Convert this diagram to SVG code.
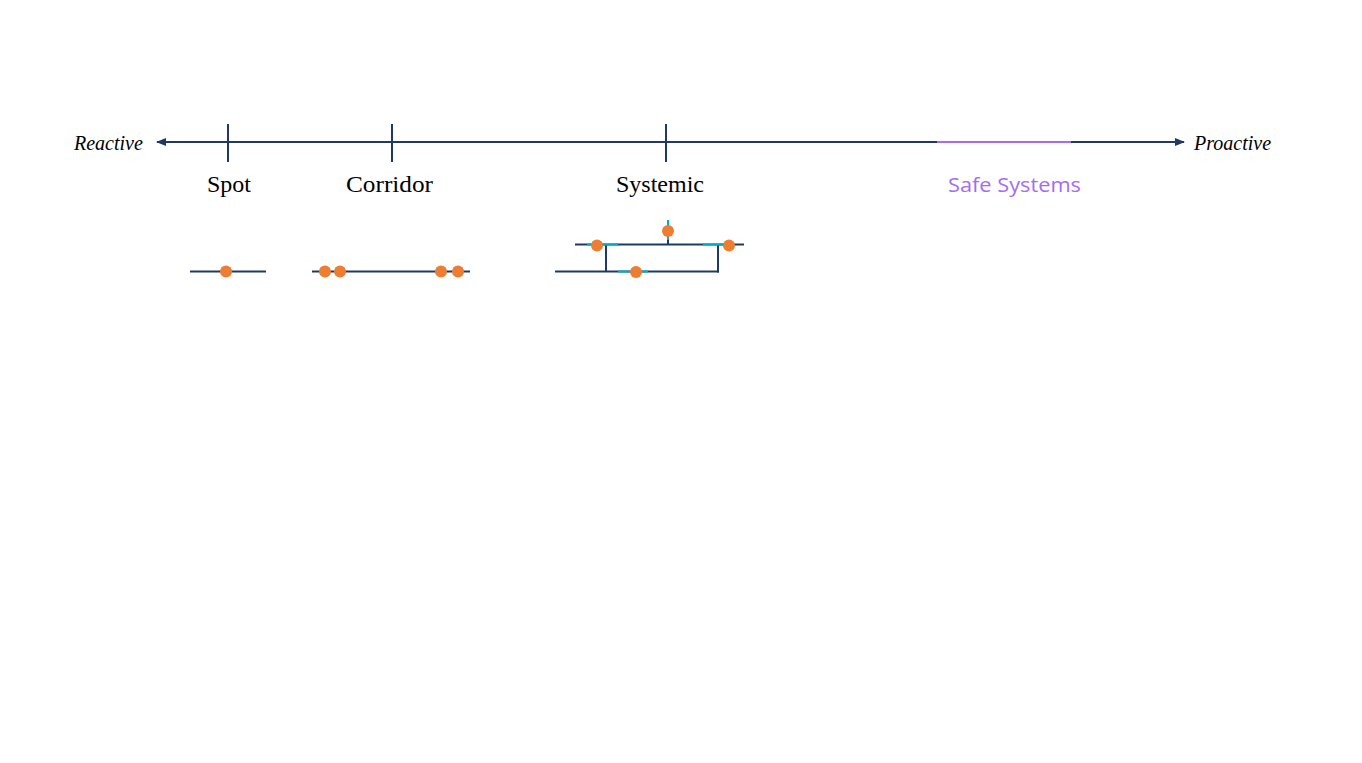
<svg xmlns="http://www.w3.org/2000/svg" width="1362" height="763" viewBox="0 0 1362 763">
<style>
.ax{stroke:#203864;stroke-width:2;fill:none}
.cy{stroke:#00AECB;stroke-width:2;fill:none}
.pu{stroke:#A66BF5;stroke-width:2;fill:none}
.dot{fill:#ED7D31}
.lbl{font-family:"Liberation Serif",serif;font-size:24px;fill:#000;text-anchor:middle}
.end{font-family:"Liberation Serif",serif;font-style:italic;font-size:20px;fill:#000}
.safe{font-family:"Open Sans","Liberation Sans",sans-serif;font-size:20px;fill:#A66BF5}
</style>
<defs>
<marker id="ah" viewBox="0 0 10 10" refX="9" refY="5" markerWidth="5" markerHeight="5" orient="auto-start-reverse" markerUnits="strokeWidth">
<path d="M0,1 L10,5 L0,9 Z" fill="#203864"/>
</marker>
</defs>
<rect width="1362" height="763" fill="#fff"/>
<g id="connectors">
<line class="ax" x1="157" y1="142" x2="1184" y2="142" marker-start="url(#ah)" marker-end="url(#ah)"/>
<line class="pu" x1="937" y1="142" x2="1071" y2="142"/>
<line class="ax" x1="228" y1="124" x2="228" y2="162"/>
<line class="ax" x1="392" y1="124" x2="392" y2="162"/>
<line class="ax" x1="666" y1="124" x2="666" y2="162"/>
</g>
<g id="reactive"><text class="end" x="74" y="150">Reactive</text></g>
<g id="proactive"><text class="end" x="1194" y="150">Proactive</text></g>
<g id="spot">
<text class="lbl" x="229" y="192">Spot</text>
<line class="ax" x1="190" y1="271.5" x2="266" y2="271.5"/>
<circle class="dot" cx="226" cy="271.5" r="6"/>
</g>
<g id="corridor">
<text class="lbl" x="389.5" y="192" textLength="87" lengthAdjust="spacingAndGlyphs">Corridor</text>
<line class="ax" x1="312" y1="271.5" x2="470" y2="271.5"/>
<circle class="dot" cx="325" cy="271.5" r="6"/>
<circle class="dot" cx="340" cy="271.5" r="6"/>
<circle class="dot" cx="441" cy="271.5" r="6"/>
<circle class="dot" cx="458" cy="271.5" r="6"/>
</g>
<g id="systemic">
<text class="lbl" x="660" y="192">Systemic</text>
<line class="ax" x1="575" y1="244.5" x2="744" y2="244.5"/>
<line class="ax" x1="555" y1="271.5" x2="719" y2="271.5"/>
<line class="ax" x1="606" y1="244.5" x2="606" y2="271.5"/>
<line class="ax" x1="718" y1="244.5" x2="718" y2="272.5"/>
<line class="ax" x1="668" y1="238" x2="668" y2="245"/>
<line class="cy" x1="587" y1="244.5" x2="618" y2="244.5"/>
<line class="cy" x1="703" y1="244.5" x2="723" y2="244.5"/>
<line class="cy" x1="618" y1="271.5" x2="648" y2="271.5"/>
<line class="cy" x1="668" y1="220" x2="668" y2="240"/>
<circle class="dot" cx="597" cy="245.5" r="6"/>
<circle class="dot" cx="729" cy="245.5" r="6"/>
<circle class="dot" cx="668" cy="231" r="6"/>
<circle class="dot" cx="636" cy="272" r="6"/>
</g>
<g id="safe-systems"><text class="safe" x="948" y="192" textLength="133" lengthAdjust="spacingAndGlyphs">Safe Systems</text></g>
</svg>
